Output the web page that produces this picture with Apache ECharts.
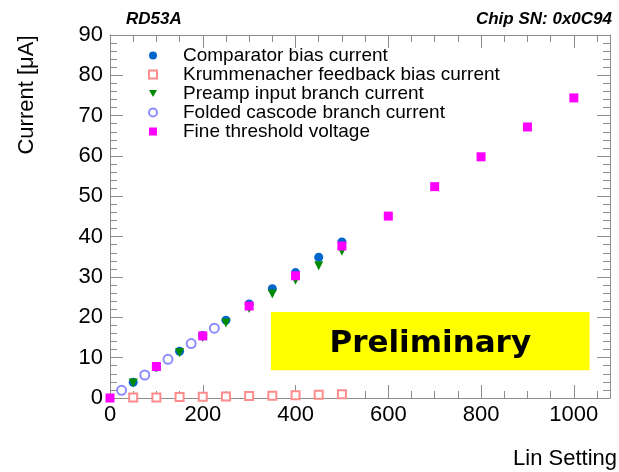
<!DOCTYPE html>
<html>
	<head>
		<meta charset="utf-8" />
		<title>RD53A Lin Setting</title>
		<script src="https://cdn.jsdelivr.net/npm/echarts@6/dist/echarts.min.js"></script>
		<style>
			* {
				margin: 0;
				padding: 0;
			}
			#main {
				width: 619px;
				height: 472px;
				background: #fff;
			}
		</style>
	</head>
	<body>
		<div id="main"></div>
		<script>
			// values
			var seriesNames = [
				'Comparator bias current',
				'Krummenacher feedback bias current',
				'Preamp input branch current',
				'Folded cascode branch current',
				'Fine threshold voltage',
			];
			var xStep50 = [50, 100, 150, 200, 250, 300, 350, 400, 450, 500];
			var comparator = [3.9, 7.7, 11.6, 15.5, 19.3, 23.3, 27.1, 31.1, 34.9, 38.7];
			var krummenacher = [0.1, 0.15, 0.25, 0.3, 0.4, 0.5, 0.55, 0.7, 0.8, 0.9];
			var preamp = [3.7, 7.5, 11.2, 15.0, 18.6, 22.2, 25.8, 29.2, 32.8, 36.4];
			var foldedX = [25, 75, 125, 175, 225];
			var folded = [1.9, 5.7, 9.6, 13.5, 17.3];
			var fineX = [0, 100, 200, 300, 400, 500, 600, 700, 800, 900, 1000];
			var fine = [0, 7.8, 15.4, 22.8, 30.3, 37.7, 45.1, 52.4, 59.8, 67.2, 74.4];

			function pairs(xs, ys) {
				return xs.map(function (x, i) {
					return [x, ys[i]];
				});
			}

			var font = 'Liberation Sans, Arial, sans-serif';
			var frame = '#8c8c8c';
			var triDown = 'path://M0,0L10,0L5,9Z';

			function axisCommon(extra) {
				var a = {
					type: 'value',
					axisLine: {show: true, onZero: false, lineStyle: {color: frame, width: 1}},
					axisTick: {show: true, inside: true, length: 13, lineStyle: {color: frame}},
					minorTick: {show: true, length: 7, lineStyle: {color: frame}},
					splitLine: {show: false},
					axisLabel: {show: false},
				};
				for (var k in extra) a[k] = extra[k];
				return a;
			}

			var xRange = {min: 0, max: 1078, interval: 200};
			var yRange = {min: 0, max: 90, interval: 10};

			var myChart = echarts.init(document.getElementById('main'));
			var option = {
				animation: false,
				backgroundColor: '#fff',
				grid: {left: 110, top: 35, right: 9, bottom: 74},
				title: [
					{
						text: 'RD53A',
						left: 126,
						top: 11,
						padding: 0,
						textStyle: {fontFamily: font, fontSize: 17, fontWeight: 'bold', fontStyle: 'italic', color: '#000'},
					},
					{
						text: 'Chip SN: 0x0C94',
						right: 7,
						top: 11,
						padding: 0,
						textStyle: {fontFamily: font, fontSize: 17, fontWeight: 'bold', fontStyle: 'italic', color: '#000'},
					},
				],
				legend: {
					orient: 'vertical',
					left: 148,
					top: 46,
					padding: 0,
					itemGap: 0,
					itemWidth: 8,
					itemHeight: 8,
					textStyle: {fontFamily: font, fontSize: 19, lineHeight: 19, color: '#000', padding: [0, 0, 0, 21]},
					data: seriesNames,
				},
				xAxis: [
					axisCommon({
						min: xRange.min,
						max: xRange.max,
						interval: xRange.interval,
						minorTick: {show: true, splitNumber: 4, length: 7, lineStyle: {color: frame}},
						axisLabel: {
							show: true,
							showMaxLabel: false,
							fontFamily: font,
							fontSize: 22,
							color: '#000',
							margin: 6,
							formatter: function (v) {
								return String(v);
							},
						},
					}),
					axisCommon({
						position: 'top',
						min: xRange.min,
						max: xRange.max,
						interval: xRange.interval,
						minorTick: {show: true, splitNumber: 4, length: 7, lineStyle: {color: frame}},
					}),
				],
				yAxis: [
					axisCommon({
						min: yRange.min,
						max: yRange.max,
						interval: yRange.interval,
						minorTick: {show: true, splitNumber: 5, length: 7, lineStyle: {color: frame}},
						axisLabel: {show: true, fontFamily: font, fontSize: 22, color: '#000', margin: 7},
					}),
					axisCommon({
						position: 'right',
						min: yRange.min,
						max: yRange.max,
						interval: yRange.interval,
						minorTick: {show: true, splitNumber: 5, length: 7, lineStyle: {color: frame}},
					}),
				],
				graphic: [
					{
						type: 'text',
						x: 27,
						y: 95,
						rotation: Math.PI / 2,
						style: {
							text: 'Current [μA]',
							font: '22px ' + font,
							fill: '#000',
							align: 'center',
							verticalAlign: 'middle',
						},
					},
					{
						type: 'text',
						x: 617,
						y: 459,
						style: {
							text: 'Lin Setting',
							font: '22px ' + font,
							fill: '#000',
							align: 'right',
							verticalAlign: 'middle',
						},
					},
				],
				series: [
					{
						name: seriesNames[0],
						type: 'scatter',
						symbol: 'circle',
						symbolSize: 9,
						itemStyle: {color: '#0066cc', opacity: 1},
						data: pairs(xStep50, comparator),
						markArea: {
							silent: true,
							itemStyle: {color: '#ffff00', opacity: 1},
							label: {
								show: true,
								position: 'inside',
								formatter: 'Preliminary',
								fontFamily: 'DejaVu Sans',
								fontWeight: 'bold',
								fontSize: 31,
								color: '#000',
								offset: [0, 3],
							},
							data: [[{xAxis: 347, yAxis: 21.3}, {xAxis: 1034, yAxis: 6.9}]],
						},
					},
					{
						name: seriesNames[1],
						type: 'scatter',
						symbol: 'emptyRect',
						symbolSize: 8,
						itemStyle: {color: '#ff8c8c', borderWidth: 1, opacity: 1},
						data: pairs(xStep50, krummenacher),
					},
					{
						name: seriesNames[2],
						type: 'scatter',
						symbol: triDown,
						symbolSize: 9,
						itemStyle: {color: '#008a00', opacity: 1},
						data: pairs(xStep50, preamp),
					},
					{
						name: seriesNames[3],
						type: 'scatter',
						symbol: 'emptyCircle',
						symbolSize: 9,
						itemStyle: {color: '#8c8cff', borderWidth: 1, opacity: 1},
						data: pairs(foldedX, folded),
					},
					{
						name: seriesNames[4],
						type: 'scatter',
						symbol: 'rect',
						symbolSize: 9,
						itemStyle: {color: '#ff00ff', opacity: 1},
						data: pairs(fineX, fine),
					},
				],
			};
			option && myChart.setOption(option);
		</script>
	</body>
</html>
